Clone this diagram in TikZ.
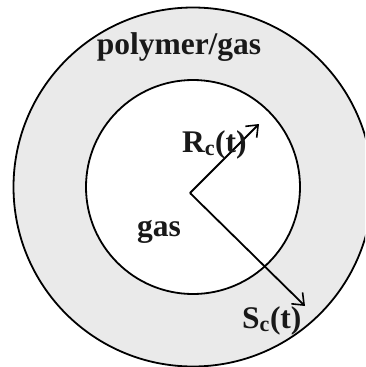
\documentclass[tikz,border=0pt]{standalone}
\usepackage{fontspec}
\setmainfont{Liberation Serif}
\usetikzlibrary{arrows.meta}
\definecolor{ringgray}{RGB}{234,234,234}
\tikzset{
  ring/.style={draw=black, line width=1.8pt},
  vec/.style={draw=black, line width=1.8pt, -{Straight Barb[length=10pt,width=16pt,line width=1.6pt]}},
  lbl/.style={font=\bfseries\fontsize{31.5}{33}\selectfont, inner sep=0pt, text=black!90}
}
\begin{document}
\begin{tikzpicture}[x=1pt,y=-1pt]
\useasboundingbox (0,0) rectangle (365,367);
\clip (0,0) rectangle (365,367);
\fill[white] (0,0) rectangle (365,367);
\coordinate (c) at (193,187);
\fill[ringgray] (c) circle[radius=179.5];
\draw[ring] (c) circle[radius=179.5];
\fill[white] (c) circle[radius=107];
\draw[ring] (c) circle[radius=107];
\coordinate (o) at (190,193);
\coordinate (r) at (259,124);
\coordinate (s) at (305,306);
\draw[vec] (o) -- (r);
\draw[vec] (o) -- (s);
\node[lbl] (poly) at (179,47) {polymer/gas};
\node[lbl] (gas) at (159,232) {gas};
\node[lbl, anchor=base west] (rc) at (182,152) {R\textsubscript{c}(t)};
\node[lbl, anchor=base west] (sc) at (242,328) {S\textsubscript{c}(t)};
\end{tikzpicture}
\end{document}
